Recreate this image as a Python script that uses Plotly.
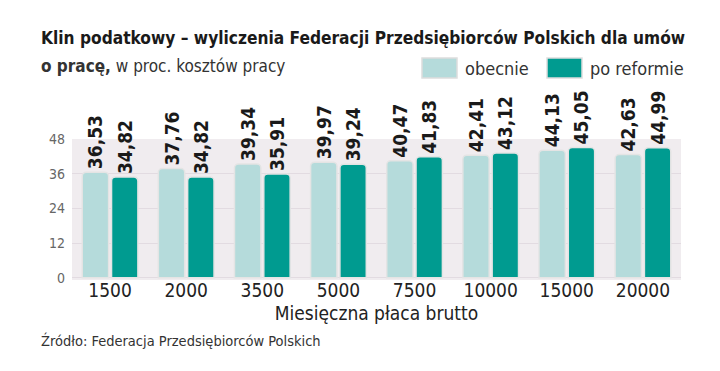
import plotly.graph_objects as go

categories = ["1500", "2000", "3500", "5000", "7500", "10000", "15000", "20000"]
obecnie = [36.53, 37.76, 39.34, 39.97, 40.47, 42.41, 44.13, 42.63]
po_reformie = [34.82, 34.82, 35.91, 39.24, 41.83, 43.12, 45.05, 44.99]
y_ticks = [0, 12, 24, 36, 48]

C_LIGHT = "#b5dbdb"
C_DARK = "#009b90"
COND = "Liberation Sans Narrow, DejaVu Sans Condensed, Roboto, sans-serif"

def fmt(v):
    return f"{v:.2f}".replace(".", ",")

fig = go.Figure()
for name, vals, col in [("obecnie", obecnie, C_LIGHT), ("po reformie", po_reformie, C_DARK)]:
    fig.add_trace(go.Bar(
        x=categories, y=vals, name=name,
        marker=dict(color=col, line=dict(color="#e4e4e4", width=1.5), cornerradius=4),
        text=[fmt(v) for v in vals], textposition="outside", textangle=-90,
        constraintext="none",
        textfont=dict(family=COND, size=19, color="#1a1a1a", weight="bold"),
        cliponaxis=False, showlegend=False,
    ))

OFF = 8  # page body margin
W, H = 720 - 2 * OFF, 371 - 2 * OFF
# plot area in page pixels
PL, PR, PT, PB = 72, 681, 139, 280
ml = PL - OFF
mr = W - (PR - OFF)
mt = PT - OFF
mb = H - (PB - OFF)
pw, ph = W - ml - mr, H - mt - mb

fig.update_layout(
    width=W, height=H,
    margin=dict(l=ml, r=mr, t=mt, b=mb, autoexpand=False),
    paper_bgcolor="white", plot_bgcolor="#f0ecef",
    barmode="group", bargap=0.23, bargroupgap=0.1,
    xaxis=dict(
        type="category", showgrid=False, zeroline=False, ticks="",
        tickfont=dict(family=COND, size=19, color="#222"), ticklabelstandoff=-3,
        title=dict(text="Miesięczna płaca brutto", font=dict(family=COND, size=19, color="#222"), standoff=6),
    ),
    yaxis=dict(
        range=[-0.8, 48], tickvals=y_ticks, ticktext=[str(t) for t in y_ticks],
        showgrid=True, gridcolor="#e2dbe1", gridwidth=1, zeroline=False,
        tickfont=dict(family=COND, size=14, color="#666"), ticklabelstandoff=6,
    ),
)

def ax(p):
    return (p - OFF - ml) / pw

def ay(p):
    return ((H - (p - OFF)) - mb) / ph

annotations = [
    dict(text="<b>Klin podatkowy – wyliczenia Federacji Przedsiębiorców Polskich dla umów</b>",
         x=ax(39), y=ay(38), font=dict(family=COND, size=17.2, color="#1a1a1a")),
    dict(text="<b>o pracę,</b> w proc. kosztów pracy",
         x=ax(39), y=ay(66), font=dict(family=COND, size=17, color="#333")),
    dict(text="obecnie", x=ax(463), y=ay(68), font=dict(family=COND, size=18, color="#333")),
    dict(text="po reformie", x=ax(588), y=ay(68), font=dict(family=COND, size=18, color="#333")),
    dict(text="Źródło: Federacja Przedsiębiorców Polskich", x=ax(39), y=ay(340),
         font=dict(family=COND, size=14.5, color="#333")),
]
for a in annotations:
    a.update(xref="paper", yref="paper", showarrow=False, xanchor="left", yanchor="middle")
fig.update_layout(annotations=annotations)

def rect(x0, y0, x1, y1, col):
    return dict(type="rect", xref="paper", yref="paper",
                x0=ax(x0), x1=ax(x1), y0=ay(y1), y1=ay(y0),
                fillcolor=col, line=dict(color="#dddddd", width=1.5))

fig.update_layout(shapes=[rect(422, 58, 457, 78, C_LIGHT), rect(547, 58, 582, 78, C_DARK)])

fig.write_html("out.html")
